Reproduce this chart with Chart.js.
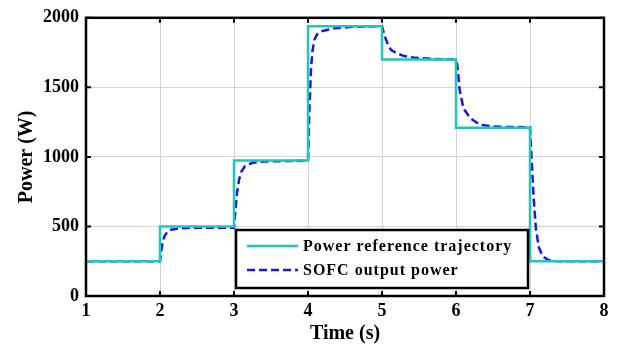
<!DOCTYPE html>
<html lang="en">
<head>
    <meta charset="UTF-8">
    <title>SOFC output power</title>
    <script src="https://cdn.jsdelivr.net/npm/chart.js"></script>
    <style>
        html, body { margin: 0; padding: 0; background: #fff; }
        #wrap { width: 620px; height: 356px; }
    </style>
</head>
<body>
    <div id="wrap"><canvas id="powerChart" width="620" height="356"></canvas></div>
    <script>
        // reference trajectory: level held from each time until the next
        const refTimes = [1, 2, 3, 4, 5, 6, 7, 8];
        const refLevels = [250, 500, 975, 1940, 1700, 1210, 250, 250];

        // SOFC output power
        const sofcTimes = [1, 2, 2.03, 2.06, 2.1, 2.15, 2.25, 2.4, 3,
            3.02, 3.04, 3.07, 3.1, 3.15, 3.25, 3.4, 3.7, 4,
            4.02, 4.04, 4.06, 4.085, 4.12, 4.18, 4.35, 4.6, 5,
            5.03, 5.07, 5.12, 5.2, 5.3, 5.45, 5.7, 6,
            6.02, 6.05, 6.1, 6.19, 6.32, 6.5, 6.7, 7,
            7.02, 7.05, 7.08, 7.12, 7.17, 7.25, 7.35, 7.5, 8];
        const sofcPower = [250, 250, 370, 430, 462, 477, 486, 490, 490,
            620, 740, 840, 895, 935, 958, 967, 970, 972,
            1350, 1630, 1760, 1840, 1880, 1903, 1924, 1935, 1940,
            1880, 1820, 1770, 1745, 1725, 1712, 1704, 1700,
            1650, 1480, 1350, 1280, 1232, 1218, 1215, 1213,
            1000, 700, 480, 350, 285, 258, 251, 250, 250];

        const xTicks = [1, 2, 3, 4, 5, 6, 7, 8];
        const yTicks = [0, 500, 1000, 1500, 2000];
        const seriesNames = ['Power reference trajectory', 'SOFC output power'];

        const cyan = '#1fc6bd';
        const blue = '#1414f0';
        const serif = '"Liberation Serif", "Times New Roman", serif';

        // black box round the plot with inward ticks
        const framePlugin = {
            id: 'frame',
            afterDraw(chart) {
                const { ctx, chartArea: a, scales } = chart;
                ctx.save();
                ctx.strokeStyle = '#000';
                ctx.lineWidth = 2.5;
                ctx.strokeRect(a.left, a.top, a.right - a.left, a.bottom - a.top);
                ctx.lineWidth = 2;
                ctx.beginPath();
                xTicks.forEach(v => {
                    const px = scales.x.getPixelForValue(v);
                    ctx.moveTo(px, a.bottom); ctx.lineTo(px, a.bottom - 5);
                    ctx.moveTo(px, a.top); ctx.lineTo(px, a.top + 5);
                });
                yTicks.forEach(v => {
                    const py = scales.y.getPixelForValue(v);
                    ctx.moveTo(a.left, py); ctx.lineTo(a.left + 5, py);
                    ctx.moveTo(a.right, py); ctx.lineTo(a.right - 5, py);
                });
                ctx.stroke();
                ctx.restore();
            }
        };

        // legend box in lower middle of the plot
        const legendPlugin = {
            id: 'boxLegend',
            afterDraw(chart) {
                const { ctx, chartArea: a } = chart;
                const x0 = a.left + 150, y0 = a.bottom - 66, w = 292, h = 58;
                ctx.save();
                ctx.fillStyle = '#fff';
                ctx.fillRect(x0, y0, w, h);
                ctx.strokeStyle = '#000';
                ctx.lineWidth = 2.5;
                ctx.strokeRect(x0, y0, w, h);

                const rows = [y0 + 16, y0 + 40];
                ctx.lineWidth = 2.5;
                ctx.strokeStyle = cyan;
                ctx.beginPath();
                ctx.moveTo(x0 + 11, rows[0]); ctx.lineTo(x0 + 62, rows[0]);
                ctx.stroke();
                ctx.strokeStyle = blue;
                ctx.setLineDash([8, 4]);
                ctx.beginPath();
                ctx.moveTo(x0 + 11, rows[1]); ctx.lineTo(x0 + 62, rows[1]);
                ctx.stroke();
                ctx.setLineDash([]);

                ctx.fillStyle = '#000';
                ctx.font = 'bold 16px ' + serif;
                ctx.letterSpacing = '1px';
                ctx.textBaseline = 'middle';
                ctx.textAlign = 'left';
                seriesNames.forEach((name, i) => ctx.fillText(name, x0 + 67, rows[i] + 1));
                ctx.restore();
            }
        };

        new Chart(document.getElementById('powerChart'), {
            type: 'line',
            data: {
                datasets: [{
                    label: seriesNames[0],
                    data: refTimes.map((t, i) => ({ x: t, y: refLevels[i] })),
                    stepped: 'before',
                    borderColor: cyan,
                    borderWidth: 2.5,
                    pointRadius: 0,
                    fill: false
                }, {
                    label: seriesNames[1],
                    data: sofcTimes.map((t, i) => ({ x: t, y: sofcPower[i] })),
                    borderColor: blue,
                    borderWidth: 2.5,
                    borderDash: [8, 4],
                    tension: 0,
                    pointRadius: 0,
                    fill: false
                }]
            },
            options: {
                responsive: false,
                animation: false,
                layout: { padding: { top: 16, right: 16, left: 0, bottom: 0 } },
                plugins: {
                    legend: { display: false },
                    tooltip: { enabled: false }
                },
                scales: {
                    x: {
                        type: 'linear',
                        min: 1,
                        max: 8,
                        afterBuildTicks: s => { s.ticks = xTicks.map(v => ({ value: v })); },
                        afterFit: s => { s.height = 60; },
                        grid: { color: '#d4d4d4', lineWidth: 1, drawTicks: false },
                        border: { display: false },
                        ticks: {
                            padding: 5,
                            color: '#000',
                            callback: v => String(v),
                            font: { family: serif, size: 18, weight: 'bold' }
                        },
                        title: {
                            display: true,
                            text: 'Time (s)',
                            color: '#000',
                            padding: { top: 0, bottom: 10 },
                            font: { family: serif, size: 20, weight: 'bold' }
                        }
                    },
                    y: {
                        min: 0,
                        max: 2000,
                        afterBuildTicks: s => { s.ticks = yTicks.map(v => ({ value: v })); },
                        afterFit: s => { s.width = 86; },
                        grid: { color: '#d4d4d4', lineWidth: 1, drawTicks: false },
                        border: { display: false },
                        ticks: {
                            padding: 7,
                            color: '#000',
                            callback: v => String(v),
                            font: { family: serif, size: 18, weight: 'bold' }
                        },
                        title: {
                            display: true,
                            text: 'Power (W)',
                            color: '#000',
                            padding: { top: 15, bottom: 0 },
                            font: { family: serif, size: 20, weight: 'bold' }
                        }
                    }
                }
            },
            plugins: [framePlugin, legendPlugin]
        });
    </script>
</body>
</html>
